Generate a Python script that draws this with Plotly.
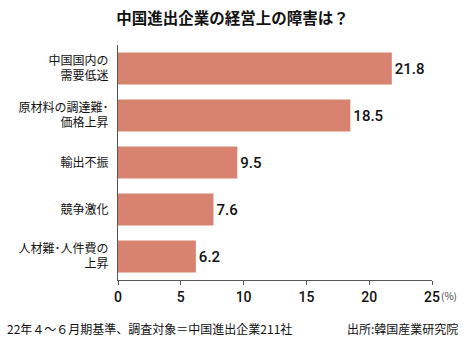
import plotly.graph_objects as go

categories = ["中国国内の<br>需要低迷", "原材料の調達難･<br>価格上昇", "輸出不振", "競争激化", "人材難･人件費の<br>上昇"]
values = [21.8, 18.5, 9.5, 7.6, 6.2]
tick_vals = [0, 5, 10, 15, 20, 25]
tick_text = ["0", "5", "10", "15", "20", "25"]

jp = "Noto Sans CJK JP"
num = "Roboto, sans-serif"

fig = go.Figure(go.Bar(
    y=categories, x=values, orientation="h",
    marker=dict(color="#D8836F", line=dict(width=0)),
    width=0.68,
    text=[f"{v:.1f}" for v in values], textposition="outside",
    textfont=dict(family=num, size=15, color="#111111", weight=500),
    cliponaxis=False,
))

fig.update_layout(
    width=465, height=340,
    margin=dict(l=118, r=33, t=45, b=60),
    paper_bgcolor="white", plot_bgcolor="white",
    showlegend=False,
    bargap=0.32,
    title=dict(text="<b>中国進出企業の経営上の障害は？</b>", x=0.5, xanchor="center",
               y=0.945, yanchor="middle", font=dict(family=jp, size=15.5, color="#111111")),
    xaxis=dict(range=[0, 25], tickvals=tick_vals, ticktext=tick_text,
               showgrid=False, zeroline=False, showline=True, linecolor="#555555", linewidth=1,
               ticks="outside", ticklen=4, tickcolor="#555555",
               tickfont=dict(family=num, size=14, color="#111111", weight=500)),
    yaxis=dict(autorange="reversed", showgrid=False, zeroline=False,
               showline=True, linecolor="#555555", linewidth=1, ticks="", ticklabelstandoff=6,
               tickfont=dict(family=jp, size=12, color="#111111")),
    annotations=[
        dict(text="(%)", x=1 + 7/314, y=-0.068, xref="paper", yref="paper",
             xanchor="left", yanchor="middle", showarrow=False,
             font=dict(family=jp, size=10, color="#444444")),
        dict(text="22年４～６月期基準、調査対象＝中国進出企業211社", xref="paper", yref="paper",
             x=-113/314, y=-48/235, xanchor="left", yanchor="middle", showarrow=False,
             font=dict(family=jp, size=12, color="#111111")),
        dict(text="出所:韓国産業研究院", xref="paper", yref="paper",
             x=1 + 28/314, y=-48/235, xanchor="right", yanchor="middle", showarrow=False,
             font=dict(family=jp, size=12, color="#111111")),
    ],
)

fig.write_html("out.html")
